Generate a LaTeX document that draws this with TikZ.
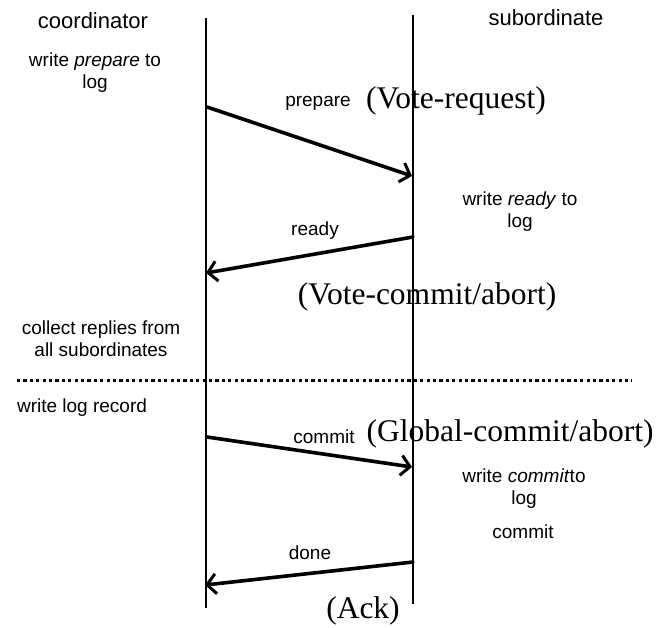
\documentclass[tikz,border=0pt]{standalone}
\usepackage{fontspec}
\setmainfont{Liberation Serif}
\setsansfont{Liberation Sans}
\usetikzlibrary{arrows.meta}
\begin{document}
\begin{tikzpicture}[x=1pt,y=-1pt,
  life/.style={line width=1.4pt},
  msg/.style={line width=3.6pt,line cap=round,-{Straight Barb[length=9pt,width=20pt,line width=3pt]}},
  lbl/.style={font=\sffamily\fontsize{19}{22}\selectfont,align=center,inner sep=0pt},
  head/.style={font=\sffamily\fontsize{22}{25}\selectfont,inner sep=0pt},
  big/.style={font=\rmfamily\fontsize{31.5}{35}\selectfont,inner sep=0pt}]
\useasboundingbox (0,0) rectangle (671,627);
% lifelines
\coordinate (cTop) at (206,18);
\coordinate (cBot) at (206,608);
\coordinate (sTop) at (413,15);
\coordinate (sBot) at (413,604);
\draw[life] (cTop) -- (cBot);
\draw[life] (sTop) -- (sBot);
% headers
\node[head] (coord) at (93,21) {coordinator};
\node[head] (sub) at (546,18) {subordinate};
% left notes
\node[lbl] (wp) at (95,73) {write \textit{prepare} to\\log};
\node[lbl] (cr) at (101,339) {collect replies from\\all subordinates};
\node[lbl] (wl) at (82,408) {write log record};
% right notes
\node[lbl] (wr) at (520,212) {write \textit{ready} to\\log};
\node[lbl] (wc) at (524,489) {write \textit{commit}to\\log};
\node[lbl] (cm) at (523,532) {commit};
% messages
\coordinate (p1) at (207,107);
\coordinate (p2) at (412,176);
\coordinate (r1) at (413,237);
\coordinate (r2) at (206,273);
\coordinate (c1) at (207,437);
\coordinate (c2) at (412,467);
\coordinate (d1) at (413,562);
\coordinate (d2) at (205,585);
\draw[msg] (p1) -- (p2);
\draw[msg] (r1) -- (r2);
\draw[msg] (c1) -- (c2);
\draw[msg] (d1) -- (d2);
% message labels
\node[lbl] (lp) at (318,103) {prepare};
\node[big] (vr) at (456,101) {(Vote-request)};
\node[lbl] (lr) at (315,231) {ready};
\node[big] (vc) at (427,297) {(Vote-commit/abort)};
\node[lbl] (lc) at (324,437) {commit};
\node[big] (gc) at (510,434) {(Global-commit/abort)};
\node[lbl] (ld) at (310,553) {done};
\node[big] (ack) at (363,611) {(Ack)};
% divider
\coordinate (dl) at (17,380);
\coordinate (dr) at (632,380);
\draw[line width=3pt,dash pattern=on 3.2pt off 3.2pt] (dl) -- (dr);
\end{tikzpicture}
\end{document}
